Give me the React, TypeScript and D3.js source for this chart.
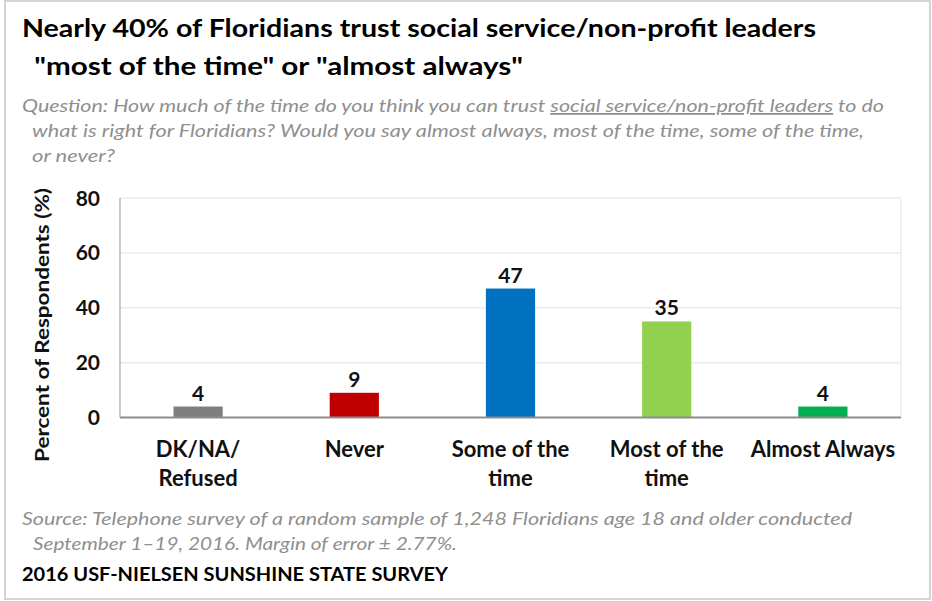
import React from "react";
import * as d3 from "d3";

const categories = ["DK/NA/\nRefused", "Never", "Some of the\ntime", "Most of the\ntime", "Almost Always"];
const values = [4, 9, 47, 35, 4];
const barColors = ["#7f7f7f", "#c00000", "#0070c0", "#92d050", "#00b050"];
const yTicks = [0, 20, 40, 60, 80];

const titleLines = [
  "Nearly 40% of Floridians trust social service/non-profit leaders",
  " \"most of the time\" or \"almost always\"",
];
const questionPre = "Question: How much of the time do you think you can trust ";
const questionUnder = "social service/non-profit leaders";
const questionPost = " to do";
const questionLines2 = [
  "what is right for Floridians? Would you say almost always, most of the time, some of the time,",
  "or never?",
];
const sourceLines = [
  "Source: Telephone survey of a random sample of 1,248 Floridians age 18 and older conducted",
  "September 1\u201319, 2016. Margin of error \u00b1 2.77%.",
];
const footer = "2016 USF-NIELSEN SUNSHINE STATE SURVEY";
const yTitle = "Percent of Respondents (%)";

const W = 932;
const H = 601;
const FONT = "Lato, 'Open Sans', sans-serif";

export default function App() {
  const plotLeft = 120;
  const plotRight = 901;
  const y = d3.scaleLinear().domain([0, 80]).range([417.5, 198]);
  const x = d3.scaleBand<string>().domain(categories).range([plotLeft, plotRight]).padding(0);
  const bw = x.bandwidth() * 0.315;
  const grey = "#8f8f8f";

  return (
    <svg
      width={W}
      height={H}
      style={{ position: "absolute", left: 0, top: 0, background: "#fff" }}
      fontFamily={FONT}
    >
      <rect x={0} y={0} width={W} height={H} fill="#ffffff" />
      <rect x={5} y={1} width={925} height={598} fill="none" stroke="#d4d4d4" strokeWidth={2} />

      {/* Title */}
      <text x={22} y={37} fontSize={25} fontWeight={700} fill="#000" textLength={794} lengthAdjust="spacingAndGlyphs">
        {titleLines[0]}
      </text>
      <text x={27} y={75} fontSize={25} fontWeight={700} fill="#000" textLength={496} lengthAdjust="spacingAndGlyphs" style={{ whiteSpace: "pre" }}>
        {titleLines[1]}
      </text>

      {/* Question */}
      <text x={22} y={112} fontSize={18} fontStyle="italic" fill={grey} textLength={862} lengthAdjust="spacingAndGlyphs" style={{ whiteSpace: "pre" }}>
        <tspan>{questionPre}</tspan>
        <tspan textDecoration="underline" style={{ textDecoration: "underline" }}>{questionUnder}</tspan>
        <tspan>{questionPost}</tspan>
      </text>
      <text x={32} y={137} fontSize={18} fontStyle="italic" fill={grey} textLength={832} lengthAdjust="spacingAndGlyphs">
        {questionLines2[0]}
      </text>
      <text x={32} y={162} fontSize={18} fontStyle="italic" fill={grey} textLength={83} lengthAdjust="spacingAndGlyphs">
        {questionLines2[1]}
      </text>

      {/* Gridlines */}
      {yTicks.filter((t) => t > 0).map((t) => (
        <line key={t} x1={plotLeft} x2={plotRight} y1={y(t)} y2={y(t)} stroke="#ebebeb" strokeWidth={1.5} />
      ))}
      <line x1={plotRight} x2={plotRight} y1={y(80)} y2={y(0)} stroke="#ebebeb" strokeWidth={1.5} />

      {/* Y axis */}
      <line x1={plotLeft} x2={plotLeft} y1={y(80)} y2={y(0)} stroke="#a6a6a6" strokeWidth={1.2} />
      {yTicks.map((t) => (
        <text key={t} x={100} y={y(t) + 7.5} fontSize={21} fontWeight={700} fill="#111" textAnchor="end">
          {t}
        </text>
      ))}
      <text
        transform={`translate(49, 325) rotate(-90)`}
        fontSize={19}
        fontWeight={700}
        fill="#111"
        textAnchor="middle"
        textLength={274}
        lengthAdjust="spacingAndGlyphs"
      >
        {yTitle}
      </text>

      {/* Bars */}
      {categories.map((c, i) => {
        const cx = (x(c) as number) + x.bandwidth() / 2;
        return (
          <g key={c}>
            <rect x={cx - bw / 2} y={y(values[i])} width={bw} height={y(0) - y(values[i])} fill={barColors[i]} />
            <text x={cx} y={y(values[i]) - 6} fontSize={21} fontWeight={700} fill="#111" textAnchor="middle">
              {values[i]}
            </text>
            {c.split("\n").map((line, j) => (
              <text key={j} x={cx} y={457 + j * 29} fontSize={22} fontWeight={700} fill="#111" textAnchor="middle">
                {line}
              </text>
            ))}
          </g>
        );
      })}

      {/* Baseline */}
      <line x1={plotLeft} x2={plotRight} y1={y(0)} y2={y(0)} stroke="#8c8c8c" strokeWidth={2} />

      {/* Source */}
      <text x={22} y={525} fontSize={18} fontStyle="italic" fill={grey} textLength={830} lengthAdjust="spacingAndGlyphs">
        {sourceLines[0]}
      </text>
      <text x={33} y={550} fontSize={18} fontStyle="italic" fill={grey} textLength={424} lengthAdjust="spacingAndGlyphs">
        {sourceLines[1]}
      </text>

      {/* Footer */}
      <text x={22} y={581} fontSize={18} fontWeight={700} fill="#000" textLength={426} lengthAdjust="spacingAndGlyphs">
        {footer}
      </text>
    </svg>
  );
}
